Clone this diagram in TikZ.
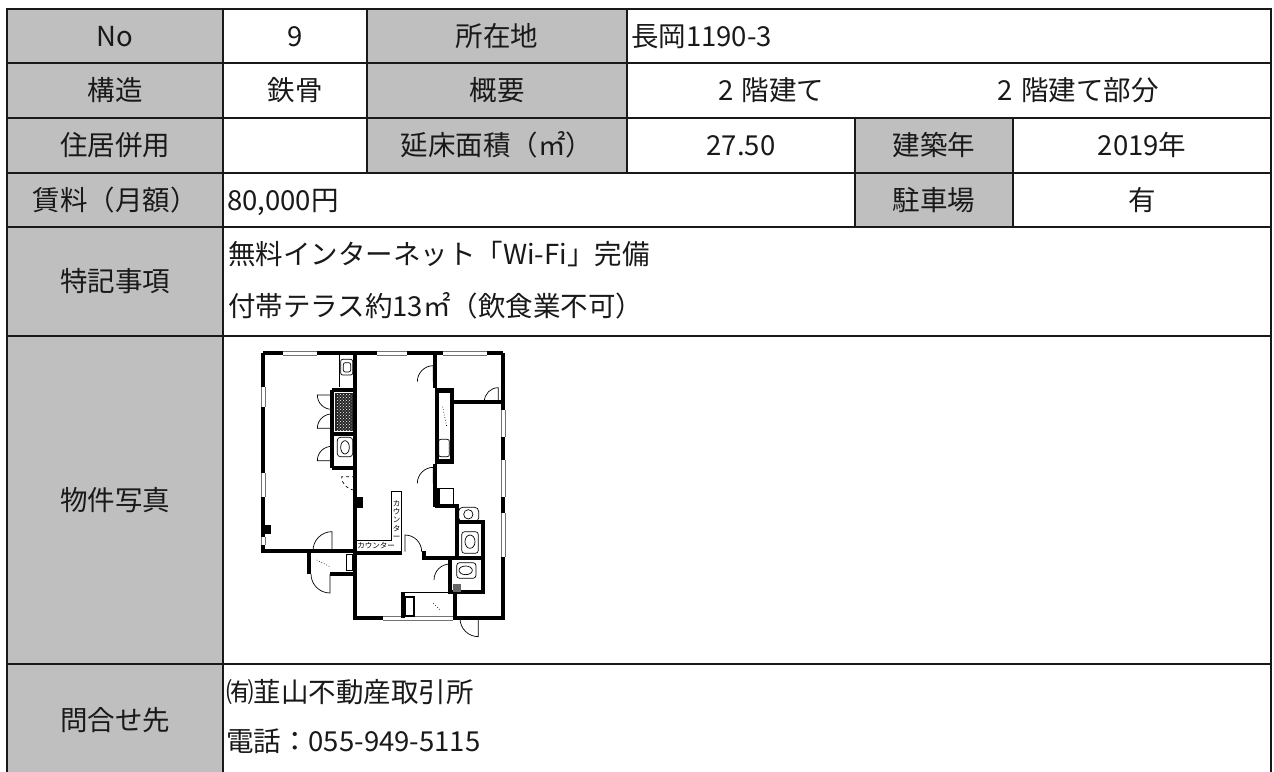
\documentclass[tikz,border=0pt]{standalone}
\usepackage{fontspec}
\setmainfont{Noto Sans CJK JP}
\usetikzlibrary{patterns}
\definecolor{cellgray}{RGB}{191,191,191}
\newcommand\hwinx[3]{\fill[white] (#1,#3-6) rectangle (#2,#3+6); \draw[thinl,black!55] (#1,#3-5)--(#2,#3-5) (#1,#3+5)--(#2,#3+5);}
\newcommand\vwinx[3]{\fill[white] (#3-6,#1) rectangle (#3+6,#2); \draw[thinl,black!55] (#3-5,#1)--(#3-5,#2) (#3+5,#1)--(#3+5,#2);}
\tikzset{
  lbl/.style={anchor=base, inner sep=0pt, text=black!90, font=\fontsize{27.5}{30}\selectfont},
  gridl/.style={line width=2.6pt, black!90},
  wall/.style={line width=4.3pt, line cap=square},
  thinl/.style={line width=0.7pt},
  tiny/.style={inner sep=0pt, font=\fontsize{7.5}{8.4}\selectfont, align=center},
}
\begin{document}
\begin{tikzpicture}[x=1pt,y=-1pt]
\useasboundingbox (0,0) rectangle (1274,771);
\clip (0,0) rectangle (1274,771);
\fill[white] (0,0) rectangle (1274,771);
% gray cells
\fill[cellgray] (7,9) rectangle (223,776);
\fill[cellgray] (367,9) rectangle (627,173);
\fill[cellgray] (855,118) rectangle (1013,227);
% grid
\draw[gridl] (7,9) rectangle (1271,776);
\foreach \yy in {63,118,173,227,336,664} \draw[gridl] (7,\yy) -- (1271,\yy);
\draw[gridl] (223,9) -- (223,776);
\draw[gridl] (367,9) -- (367,173);
\draw[gridl] (627,9) -- (627,173);
\draw[gridl] (855,118) -- (855,227);
\draw[gridl] (1013,118) -- (1013,227);
% texts
\node[lbl] (tNo) at (115,46) {No};
\node[lbl] (vNo) at (295,46) {9};
\node[lbl] (tLoc) at (497,46) {所在地};
\node[lbl,anchor=base west] (vLoc) at (631,46) {長岡1190-3};
\node[lbl] (tStr) at (115,100.5) {構造};
\node[lbl] (vStr) at (295,100.5) {鉄骨};
\node[lbl] (tSum) at (497,100.5) {概要};
\node[lbl] (vSumA) at (771,100.5) {2\hspace{0.3em}階建て};
\node[lbl] (vSumB) at (1078,100.5) {2\hspace{0.3em}階建て部分};
\node[lbl] (tRes) at (115,155.5) {住居併用};
\node[lbl] (tArea) at (497,155.5) {延床面積（㎡）};
\node[lbl] (vArea) at (741,155.5) {27.50};
\node[lbl] (tYear) at (934,155.5) {建築年};
\node[lbl] (vYear) at (1142,155.5) {2019年};
\node[lbl] (tRent) at (115,210) {賃料（月額）};
\node[lbl,anchor=base west] (vRent) at (227,210) {80,000円};
\node[lbl] (tPark) at (934,210) {駐車場};
\node[lbl] (vPark) at (1142,210) {有};
\node[lbl] (tNote) at (115,291.5) {特記事項};
\node[lbl,anchor=base west] (vNoteA) at (228,264) {無料インターネット「Wi-Fi」完備};
\node[lbl,anchor=base west] (vNoteB) at (228,316) {付帯テラス約13㎡（飲食業不可）};
\node[lbl] (tPhoto) at (115,510) {物件写真};
\node[lbl] (tCont) at (115,730) {問合せ先};
\node[lbl,anchor=base west] (vContA) at (226,702) {㈲韮山不動産取引所};
\node[lbl,anchor=base west] (vContB) at (226,751) {電話：055-949-5115};
% floor plan
\begin{scope}[shift={(220,340)},scale=1/3]
  \draw[wall] (130,40) -- (850,40);
  \draw[wall] (130,40) -- (130,632) -- (405,632);
  \draw[wall] (405,40) -- (405,835) -- (850,835) -- (850,40);
  % windows
  \hwinx{190}{290}{40}\hwinx{470}{560}{40}\hwinx{670}{800}{40}
  \vwinx{140}{200}{130}\vwinx{400}{470}{130}\vwinx{590}{615}{130}
  \vwinx{210}{290}{850}\vwinx{360}{470}{850}\vwinx{520}{650}{850}
  \hwinx{490}{700}{835}
  % vestibule
  \draw[wall] (266,632) -- (266,702);
  \draw[wall] (330,702) -- (405,702);
  \draw[thinl] (330,702) -- +(90:57) arc[start angle=90,end angle=180,radius=57];
  \draw[thinl] (336,632) -- +(270:57) arc[start angle=270,end angle=180,radius=57];
  \draw[thinl] (378,642) rectangle (398,690);
  \draw[thinl,dotted] (290,660) -- (330,680);
  % closets
  \draw[wall] (335,150) -- (335,385);
  \draw[wall] (335,150) -- (405,150);
  \draw[wall] (335,282) -- (405,282);
  \draw[wall] (335,383) -- (405,383);
  \draw[thinl] (358,40) -- (358,140);
  \draw[thinl,rounded corners=2pt] (362,58) rectangle (398,105);
  \draw[thinl,rounded corners=2pt] (370,68) rectangle (392,96);
  \fill[black!85] (345,158) rectangle (400,274);
  \fill[pattern=crosshatch dots,pattern color=white] (350,162) rectangle (396,270);
  \draw[thinl,rounded corners=3pt] (352,292) rectangle (398,350);
  \draw[thinl] (375,322) ellipse[x radius=13,y radius=20];
  \draw[thinl] (335,165) -- +(180:43) arc[start angle=180,end angle=90,radius=43];
  \draw[thinl] (335,265) -- +(180:43) arc[start angle=180,end angle=270,radius=43];
  \draw[thinl] (335,362) -- +(180:43) arc[start angle=180,end angle=270,radius=43];
  \draw[thinl,dashed] (405,410) -- +(180:40) arc[start angle=180,end angle=90,radius=40];
  \fill (405,470) rectangle (428,505);
  \fill (133,555) rectangle (152,582);
  % top right room
  \draw[wall] (645,40) -- (645,145);
  \draw[wall] (700,185) -- (850,185);
  \draw[thinl] (640,125) -- +(270:48) arc[start angle=270,end angle=180,radius=48];
  \draw[thinl] (835,185) -- +(270:42) arc[start angle=270,end angle=180,radius=42];
  % kitchen
  \fill (645,145) rectangle (702,372);
  \fill[white] (658,160) rectangle (690,358);
  \draw[thinl,rounded corners=2pt] (656,298) rectangle (688,350);
  \draw[thinl,dotted] (668,200) -- (680,260);
  \draw[wall] (645,372) -- (645,500);
  \draw[thinl] (640,430) -- +(270:48) arc[start angle=270,end angle=180,radius=48];
  \draw[wall] (655,445) -- (655,495);
  \draw[thinl] (655,445) rectangle (700,492);
  % toilets
  \draw[wall] (645,497) -- (712,497) -- (712,650);
  \draw[thinl,rounded corners=4pt] (716,502) rectangle (776,545);
  \draw[thinl] (745,523) circle[radius=14];
  \draw[wall] (712,545) -- (790,545) -- (790,757);
  \draw[thinl,rounded corners=3pt] (725,575) rectangle (775,640);
  \draw[thinl] (750,605) ellipse[x radius=15,y radius=20];
  % central bottom
  \draw[wall] (405,640) -- (545,640);
  \draw[wall] (605,640) -- (612,640) -- (612,655) -- (690,655);
  \draw[thinl] (555,635) -- +(270:50) arc[start angle=270,end angle=360,radius=50];
  \draw[wall] (690,655) rectangle (790,757);
  \draw[thinl,rounded corners=3pt] (710,668) rectangle (768,715);
  \draw[thinl] (737,691) ellipse[x radius=20,y radius=13];
  \fill[black!60] (700,733) rectangle (722,755);
  \draw[thinl] (690,720) -- +(270:48) arc[start angle=270,end angle=180,radius=48];
  % storage
  \draw[wall] (548,757) -- (548,835);
  \draw[thinl] (548,757) -- (705,757);
  \draw[wall] (705,757) -- (705,835);
  \draw[line width=2pt] (556,770) rectangle (582,828);
  \draw[thinl,dotted] (640,790) -- (660,810);
  \draw[thinl] (775,835) -- +(90:55) arc[start angle=90,end angle=180,radius=55];
  % counter
  \draw[thinl] (410,600) -- (515,600) -- (515,455) -- (545,455) -- (545,635) -- (410,635);
  \node[tiny] (ctrV) at (530,540) {カ\\ウ\\ン\\タ\\ー};
  \node[tiny] (ctrH) at (468,617) {カウンター};
\end{scope}
\end{tikzpicture}
\end{document}
